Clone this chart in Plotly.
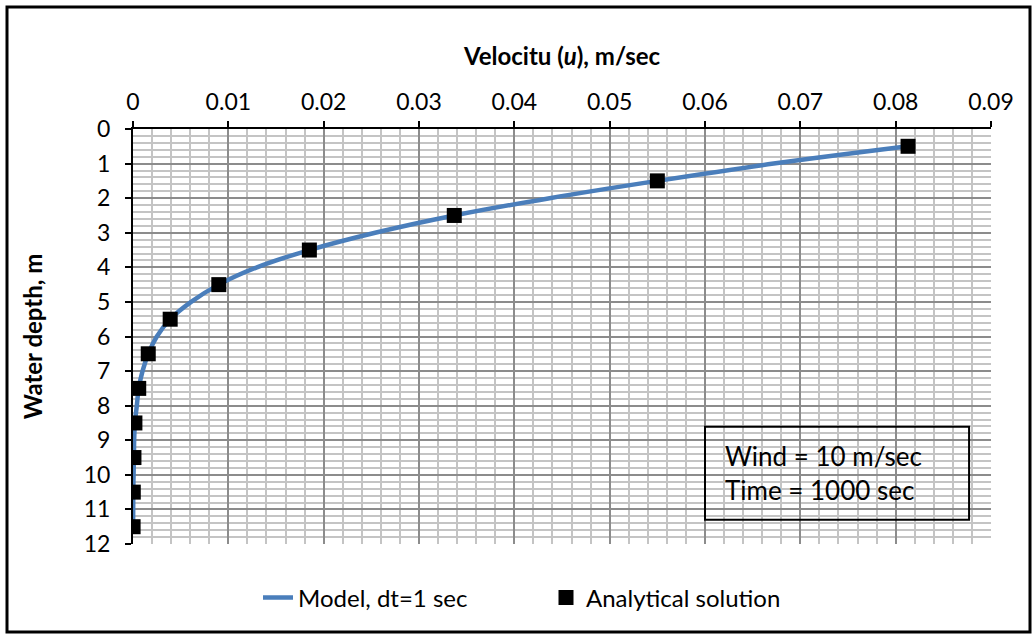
import plotly.graph_objects as go

# Model curve
model_depth = [0.5, 1.0, 1.5, 2.0, 2.5, 3.0, 3.5, 4.0, 4.5, 5.0, 5.5, 6.0, 6.5, 7.0, 7.5, 8.0, 8.5, 9.0, 9.5, 10.0, 10.5, 11.0, 11.5]
model_u = [0.0813, 0.0672, 0.0550, 0.0437, 0.0337, 0.0254, 0.0185, 0.0130, 0.0090, 0.0061, 0.0039, 0.0025, 0.0016, 0.0010, 0.0006, 0.0004, 0.0002, 0.00012, 0.0001, 0.00006, 0.00003, 0.00002, 0.00001]

# Analytical solution points
anal_depth = [0.5, 1.5, 2.5, 3.5, 4.5, 5.5, 6.5, 7.5, 8.5, 9.5, 10.5, 11.5]
anal_u = [0.0813, 0.0550, 0.0337, 0.0185, 0.0090, 0.0039, 0.0016, 0.0006, 0.0002, 0.0001, 0.00003, 0.00001]

x_ticks = [0, 0.01, 0.02, 0.03, 0.04, 0.05, 0.06, 0.07, 0.08, 0.09]
x_labels = ["0", "0.01", "0.02", "0.03", "0.04", "0.05", "0.06", "0.07", "0.08", "0.09"]
y_ticks = list(range(0, 13))

FONT = "Lato"

fig = go.Figure()
fig.add_trace(go.Scatter(
    x=model_u, y=model_depth, mode="lines", name="Model, dt=1 sec",
    line=dict(color="#4a7ebb", width=4.5, shape="spline"),
))
fig.add_trace(go.Scatter(
    x=anal_u, y=anal_depth, mode="markers", name="Analytical solution",
    marker=dict(symbol="square", color="black", size=15),
))

W, H = 1036, 637
L, R, T, B = 133, 991, 129, 544

def px(xp):
    return (xp - L) / (R - L)

def py(yp):
    return (B - yp) / (B - T)

fig.add_shape(type="rect", xref="paper", yref="paper",
              x0=px(7), x1=px(1030), y0=py(632), y1=py(7),
              line=dict(color="black", width=3), layer="above")

# annotation box
fig.add_shape(type="rect", xref="x", yref="y",
              x0=0.0600, x1=0.0877, y0=8.61, y1=11.3,
              line=dict(color="black", width=2), layer="above")
fig.add_annotation(xref="x", yref="y", x=0.0619, y=9.95, xanchor="left", yanchor="middle",
                   text="Wind = 10 m/sec<br>Time = 1000 sec", showarrow=False, align="left",
                   font=dict(family=FONT, size=26, color="black"))

fig.update_layout(
    width=W, height=H,
    margin=dict(l=L, r=W - R, t=T, b=H - B),
    paper_bgcolor="white", plot_bgcolor="white",
    font=dict(family=FONT, size=23, color="black"),
    showlegend=True,
    legend=dict(orientation="h", x=px(258), xanchor="left", y=py(598), yanchor="middle",
                font=dict(family=FONT, size=24), entrywidth=243, entrywidthmode="pixels",
                tracegroupgap=0),
    xaxis=dict(
        side="top", range=[0, 0.09], tickvals=x_ticks, ticktext=x_labels,
        showline=True, linecolor="black", linewidth=2,
        ticks="outside", ticklen=6, tickwidth=2, tickcolor="black", ticklabelstandoff=2,
        showgrid=True, gridcolor="#8c8c8c", gridwidth=1.5,
        minor=dict(dtick=0.002, showgrid=True, gridcolor="#c4c4c4", gridwidth=1.5, ticks=""),
        zeroline=False, mirror=False,
        title=dict(text="<b>Velocitu (<i>u</i>), m/sec</b>", font=dict(size=24), standoff=14),
    ),
    yaxis=dict(
        range=[12, 0], tickvals=y_ticks,
        showline=True, linecolor="black", linewidth=2,
        ticks="outside", ticklen=6, tickwidth=2, tickcolor="black", ticklabelstandoff=10,
        showgrid=True, gridcolor="#8c8c8c", gridwidth=1.5,
        minor=dict(dtick=0.2, showgrid=True, gridcolor="#c4c4c4", gridwidth=1.5, ticks=""),
        zeroline=False,
        title=dict(text="<b>Water depth, m</b>", font=dict(size=24), standoff=34),
    ),
)

fig.write_html("out.html")
